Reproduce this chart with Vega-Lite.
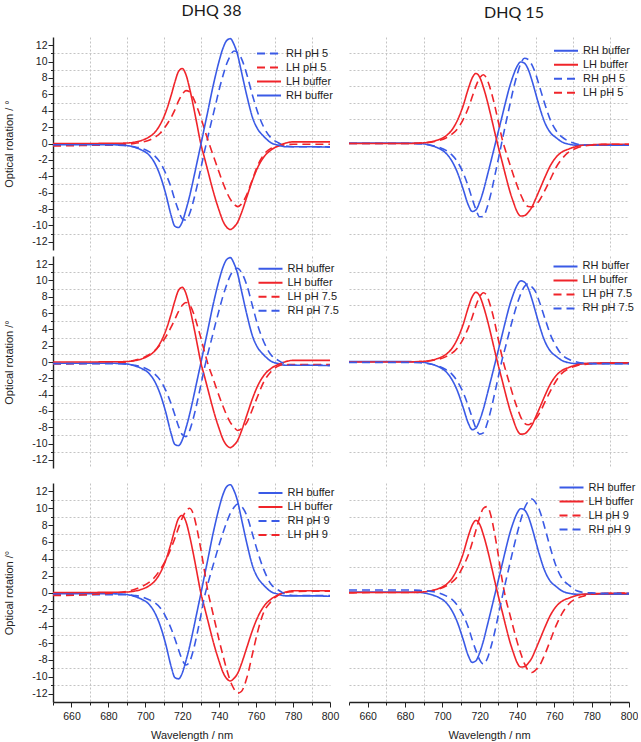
{
"$schema":"https://vega.github.io/schema/vega-lite/v6.json",
"background":"white",
"padding":{"left":3,"top":2,"right":0,"bottom":0},
"autosize":{"type":"pad"},
"datasets":{
"d38":[
{"nm":650,"RHb":-0.15,"LHb":0,"RH5":-0.2,"LH5":-0.3,"RH7":-0.2,"LH7":-0.25,"RH9":-0.25,"LH9":-0.35},
{"nm":665,"RHb":-0.15,"LHb":0,"RH5":-0.2,"LH5":-0.25,"RH7":-0.2,"LH7":-0.2,"RH9":-0.25,"LH9":-0.3},
{"nm":680,"RHb":-0.15,"LHb":0.02,"RH5":-0.2,"LH5":-0.15,"RH7":-0.2,"LH7":-0.15,"RH9":-0.25,"LH9":-0.1},
{"nm":688,"RHb":-0.2,"LHb":0.04,"RH5":-0.25,"LH5":-0.1,"RH7":-0.25,"LH7":-0.05,"RH9":-0.25,"LH9":0.05},
{"nm":694,"RHb":-0.45,"LHb":0.16,"RH5":-0.4,"LH5":0.0,"RH7":-0.4,"LH7":0.2,"RH9":-0.35,"LH9":0.35},
{"nm":698,"RHb":-0.8,"LHb":0.38,"RH5":-0.6,"LH5":0.15,"RH7":-0.6,"LH7":0.45,"RH9":-0.5,"LH9":0.7},
{"nm":702,"RHb":-1.4,"LHb":0.79,"RH5":-1.0,"LH5":0.4,"RH7":-1.0,"LH7":0.9,"RH9":-0.85,"LH9":1.2},
{"nm":705,"RHb":-2.35,"LHb":1.33,"RH5":-1.5,"LH5":0.75,"RH7":-1.45,"LH7":1.37,"RH9":-1.2,"LH9":1.8},
{"nm":708,"RHb":-3.9,"LHb":2.3,"RH5":-2.3,"LH5":1.25,"RH7":-2.2,"LH7":2.1,"RH9":-1.8,"LH9":2.7},
{"nm":711,"RHb":-6.1,"LHb":3.8,"RH5":-3.65,"LH5":2.1,"RH7":-3.45,"LH7":3.05,"RH9":-2.85,"LH9":3.8},
{"nm":714,"RHb":-8.8,"LHb":5.9,"RH5":-5.4,"LH5":3.2,"RH7":-5.15,"LH7":4.3,"RH9":-4.3,"LH9":5.3},
{"nm":716,"RHb":-10.1,"LHb":7.5,"RH5":-6.9,"LH5":4.1,"RH7":-6.5,"LH7":5.25,"RH9":-5.5,"LH9":6.45},
{"nm":718,"RHb":-10.25,"LHb":8.8,"RH5":-8.2,"LH5":5.2,"RH7":-7.9,"LH7":6.2,"RH9":-6.8,"LH9":7.7},
{"nm":720,"RHb":-9.56,"LHb":9.15,"RH5":-9.2,"LH5":6.0,"RH7":-8.9,"LH7":6.95,"RH9":-8.0,"LH9":8.85},
{"nm":722,"RHb":-8.1,"LHb":8.4,"RH5":-9.35,"LH5":6.45,"RH7":-9.15,"LH7":7.3,"RH9":-8.6,"LH9":9.66},
{"nm":724,"RHb":-6.4,"LHb":6.7,"RH5":-8.55,"LH5":6.3,"RH7":-8.4,"LH7":7.0,"RH9":-8.2,"LH9":10.0},
{"nm":726,"RHb":-4.4,"LHb":4.6,"RH5":-7.05,"LH5":5.55,"RH7":-6.9,"LH7":6.05,"RH9":-6.85,"LH9":9.3},
{"nm":728,"RHb":-2.3,"LHb":2.3,"RH5":-5.2,"LH5":4.45,"RH7":-5.0,"LH7":4.6,"RH9":-4.95,"LH9":7.5},
{"nm":730,"RHb":-0.2,"LHb":0,"RH5":-3.1,"LH5":3.2,"RH7":-2.9,"LH7":3.0,"RH9":-2.8,"LH9":5.2},
{"nm":732,"RHb":1.96,"LHb":-1.73,"RH5":-1.0,"LH5":1.75,"RH7":-0.75,"LH7":1.3,"RH9":-0.55,"LH9":2.6},
{"nm":734,"RHb":4.1,"LHb":-3.46,"RH5":0.95,"LH5":0.35,"RH7":1.15,"LH7":-0.33,"RH9":1.15,"LH9":0},
{"nm":736,"RHb":6.3,"LHb":-5.2,"RH5":2.85,"LH5":-0.97,"RH7":2.9,"LH7":-1.6,"RH9":2.7,"LH9":-1.9},
{"nm":738,"RHb":8.3,"LHb":-6.8,"RH5":4.7,"LH5":-2.26,"RH7":4.7,"LH7":-2.9,"RH9":4.2,"LH9":-3.8},
{"nm":740,"RHb":10.1,"LHb":-8.2,"RH5":6.6,"LH5":-3.55,"RH7":6.4,"LH7":-4.2,"RH9":5.7,"LH9":-5.7},
{"nm":742,"RHb":11.6,"LHb":-9.45,"RH5":8.25,"LH5":-4.8,"RH7":8.05,"LH7":-5.4,"RH9":7.05,"LH9":-7.45},
{"nm":744,"RHb":12.55,"LHb":-10.2,"RH5":9.7,"LH5":-5.9,"RH7":9.45,"LH7":-6.5,"RH9":8.3,"LH9":-9.1},
{"nm":746,"RHb":12.8,"LHb":-10.5,"RH5":10.7,"LH5":-6.8,"RH7":10.6,"LH7":-7.4,"RH9":9.4,"LH9":-10.5},
{"nm":748,"RHb":12.1,"LHb":-10.2,"RH5":11.3,"LH5":-7.4,"RH7":11.3,"LH7":-8.0,"RH9":10.1,"LH9":-11.45},
{"nm":750,"RHb":10.8,"LHb":-9.6,"RH5":11.1,"LH5":-7.7,"RH7":11.5,"LH7":-8.4,"RH9":10.5,"LH9":-11.95},
{"nm":752,"RHb":8.8,"LHb":-8.5,"RH5":10.4,"LH5":-7.4,"RH7":11.0,"LH7":-8.2,"RH9":10.25,"LH9":-11.75},
{"nm":755,"RHb":5.8,"LHb":-6.5,"RH5":8.4,"LH5":-6.2,"RH7":9.4,"LH7":-7.4,"RH9":9.1,"LH9":-10.1},
{"nm":758,"RHb":3.2,"LHb":-4.5,"RH5":5.9,"LH5":-4.4,"RH7":6.9,"LH7":-5.8,"RH9":6.95,"LH9":-7.3},
{"nm":761,"RHb":1.7,"LHb":-2.85,"RH5":3.7,"LH5":-2.6,"RH7":4.4,"LH7":-4.1,"RH9":4.7,"LH9":-4.5},
{"nm":764,"RHb":0.9,"LHb":-1.7,"RH5":2.05,"LH5":-1.4,"RH7":2.55,"LH7":-2.5,"RH9":2.8,"LH9":-2.4},
{"nm":768,"RHb":0.1,"LHb":-0.8,"RH5":0.7,"LH5":-0.6,"RH7":0.9,"LH7":-1.2,"RH9":1.0,"LH9":-1.1},
{"nm":772,"RHb":-0.2,"LHb":-0.3,"RH5":0.1,"LH5":-0.3,"RH7":0.2,"LH7":-0.5,"RH9":0.3,"LH9":-0.3},
{"nm":776,"RHb":-0.4,"LHb":0.05,"RH5":-0.3,"LH5":-0.15,"RH7":-0.25,"LH7":-0.3,"RH9":-0.2,"LH9":0.0},
{"nm":780,"RHb":-0.4,"LHb":0.2,"RH5":-0.4,"LH5":-0.1,"RH7":-0.4,"LH7":-0.3,"RH9":-0.35,"LH9":0.1},
{"nm":790,"RHb":-0.4,"LHb":0.2,"RH5":-0.4,"LH5":-0.1,"RH7":-0.4,"LH7":-0.3,"RH9":-0.35,"LH9":0.15},
{"nm":800,"RHb":-0.45,"LHb":0.2,"RH5":-0.4,"LH5":-0.1,"RH7":-0.4,"LH7":-0.3,"RH9":-0.35,"LH9":0.15}
],
"d15":[
{"nm":650,"RHb":0.05,"LHb":0,"RH5":0,"LH5":0,"RH7":-0.05,"LH7":0,"RH9":0.3,"LH9":-0.05},
{"nm":665,"RHb":0.05,"LHb":0,"RH5":0,"LH5":0,"RH7":-0.05,"LH7":0,"RH9":0.3,"LH9":0},
{"nm":680,"RHb":0.05,"LHb":0,"RH5":0,"LH5":0,"RH7":-0.05,"LH7":0,"RH9":0.3,"LH9":0},
{"nm":688,"RHb":0.0,"LHb":0.05,"RH5":-0.05,"LH5":0.04,"RH7":-0.1,"LH7":0.04,"RH9":0.25,"LH9":0.05},
{"nm":694,"RHb":-0.25,"LHb":0.21,"RH5":-0.21,"LH5":0.17,"RH7":-0.27,"LH7":0.16,"RH9":0.13,"LH9":0.2},
{"nm":698,"RHb":-0.58,"LHb":0.47,"RH5":-0.44,"LH5":0.35,"RH7":-0.5,"LH7":0.34,"RH9":-0.05,"LH9":0.4},
{"nm":702,"RHb":-1.2,"LHb":0.94,"RH5":-0.84,"LH5":0.68,"RH7":-0.94,"LH7":0.66,"RH9":-0.4,"LH9":0.77},
{"nm":705,"RHb":-2.1,"LHb":1.62,"RH5":-1.36,"LH5":1.1,"RH7":-1.45,"LH7":1.05,"RH9":-0.8,"LH9":1.2},
{"nm":708,"RHb":-3.5,"LHb":2.8,"RH5":-2.2,"LH5":1.76,"RH7":-2.35,"LH7":1.7,"RH9":-1.5,"LH9":1.85},
{"nm":711,"RHb":-5.47,"LHb":4.5,"RH5":-3.5,"LH5":2.85,"RH7":-3.65,"LH7":2.75,"RH9":-2.6,"LH9":3.05},
{"nm":714,"RHb":-7.55,"LHb":6.75,"RH5":-5.3,"LH5":4.4,"RH7":-5.45,"LH7":4.25,"RH9":-4.2,"LH9":4.5},
{"nm":716,"RHb":-8.3,"LHb":8.0,"RH5":-6.75,"LH5":5.7,"RH7":-6.85,"LH7":5.5,"RH9":-5.6,"LH9":5.9},
{"nm":718,"RHb":-8.1,"LHb":8.55,"RH5":-8.05,"LH5":7.0,"RH7":-8.15,"LH7":6.9,"RH9":-6.9,"LH9":7.4},
{"nm":720,"RHb":-7.15,"LHb":8.1,"RH5":-8.95,"LH5":8.0,"RH7":-8.85,"LH7":8.0,"RH9":-8.0,"LH9":8.9},
{"nm":722,"RHb":-5.75,"LHb":6.85,"RH5":-8.9,"LH5":8.4,"RH7":-8.7,"LH7":8.5,"RH9":-8.5,"LH9":10.0},
{"nm":724,"RHb":-4.0,"LHb":5.25,"RH5":-7.8,"LH5":7.8,"RH7":-7.55,"LH7":8.05,"RH9":-7.9,"LH9":10.2},
{"nm":726,"RHb":-2.2,"LHb":3.4,"RH5":-6.15,"LH5":6.45,"RH7":-5.9,"LH7":6.7,"RH9":-6.5,"LH9":9.15},
{"nm":728,"RHb":-0.37,"LHb":1.45,"RH5":-4.05,"LH5":4.7,"RH7":-3.9,"LH7":4.9,"RH9":-4.75,"LH9":7.0},
{"nm":730,"RHb":1.47,"LHb":-0.44,"RH5":-1.9,"LH5":2.65,"RH7":-1.8,"LH7":2.75,"RH9":-2.7,"LH9":4.4},
{"nm":732,"RHb":3.3,"LHb":-2.2,"RH5":0.3,"LH5":0.6,"RH7":0.26,"LH7":0.64,"RH9":-0.6,"LH9":1.55},
{"nm":734,"RHb":5.16,"LHb":-4.0,"RH5":2.45,"LH5":-0.98,"RH7":2.0,"LH7":-1.1,"RH9":1.35,"LH9":-0.76},
{"nm":736,"RHb":6.9,"LHb":-5.7,"RH5":4.55,"LH5":-2.4,"RH7":3.8,"LH7":-2.65,"RH9":3.25,"LH9":-2.45},
{"nm":738,"RHb":8.3,"LHb":-7.1,"RH5":6.6,"LH5":-3.8,"RH7":5.5,"LH7":-4.2,"RH9":5.15,"LH9":-4.15},
{"nm":740,"RHb":9.4,"LHb":-8.3,"RH5":8.35,"LH5":-5.1,"RH7":7.05,"LH7":-5.55,"RH9":6.95,"LH9":-5.8},
{"nm":742,"RHb":9.95,"LHb":-8.85,"RH5":9.75,"LH5":-6.25,"RH7":8.35,"LH7":-6.75,"RH9":8.6,"LH9":-7.2},
{"nm":744,"RHb":9.8,"LHb":-8.8,"RH5":10.4,"LH5":-7.2,"RH7":9.25,"LH7":-7.5,"RH9":10.0,"LH9":-8.45},
{"nm":746,"RHb":9.05,"LHb":-8.4,"RH5":10.25,"LH5":-7.7,"RH7":9.6,"LH7":-7.7,"RH9":10.8,"LH9":-9.25},
{"nm":748,"RHb":7.7,"LHb":-7.75,"RH5":9.6,"LH5":-7.75,"RH7":9.2,"LH7":-7.45,"RH9":11.1,"LH9":-9.5},
{"nm":750,"RHb":6.1,"LHb":-6.75,"RH5":8.5,"LH5":-7.5,"RH7":8.6,"LH7":-7.0,"RH9":10.65,"LH9":-9.2},
{"nm":752,"RHb":4.5,"LHb":-5.7,"RH5":7.0,"LH5":-6.95,"RH7":7.4,"LH7":-6.3,"RH9":9.8,"LH9":-8.7},
{"nm":755,"RHb":2.5,"LHb":-4.1,"RH5":4.75,"LH5":-5.7,"RH7":5.3,"LH7":-4.9,"RH9":7.6,"LH9":-7.3},
{"nm":758,"RHb":1.3,"LHb":-2.65,"RH5":2.8,"LH5":-4.3,"RH7":3.3,"LH7":-3.5,"RH9":5.2,"LH9":-5.6},
{"nm":761,"RHb":0.7,"LHb":-1.65,"RH5":1.55,"LH5":-2.9,"RH7":1.9,"LH7":-2.3,"RH9":3.1,"LH9":-3.9},
{"nm":764,"RHb":0.2,"LHb":-1.05,"RH5":0.8,"LH5":-1.9,"RH7":0.9,"LH7":-1.4,"RH9":1.7,"LH9":-2.55},
{"nm":768,"RHb":-0.1,"LHb":-0.65,"RH5":0.25,"LH5":-1.0,"RH7":0.3,"LH7":-0.8,"RH9":0.85,"LH9":-1.3},
{"nm":772,"RHb":-0.2,"LHb":-0.35,"RH5":-0.05,"LH5":-0.55,"RH7":0.0,"LH7":-0.45,"RH9":0.2,"LH9":-0.7},
{"nm":776,"RHb":-0.2,"LHb":-0.2,"RH5":-0.2,"LH5":-0.3,"RH7":-0.15,"LH7":-0.3,"RH9":0.0,"LH9":-0.4},
{"nm":780,"RHb":-0.2,"LHb":-0.15,"RH5":-0.2,"LH5":-0.2,"RH7":-0.2,"LH7":-0.2,"RH9":-0.05,"LH9":-0.2},
{"nm":790,"RHb":-0.2,"LHb":-0.1,"RH5":-0.2,"LH5":-0.1,"RH7":-0.2,"LH7":-0.15,"RH9":-0.1,"LH9":-0.1},
{"nm":800,"RHb":-0.2,"LHb":-0.1,"RH5":-0.2,"LH5":-0.1,"RH7":-0.2,"LH7":-0.1,"RH9":-0.1,"LH9":-0.05}
]
},
"config":{
"view":{"stroke":null},
"axis":{"labelFont":"Liberation Sans Narrow, Liberation Sans","labelFontSize":10.5,"labelColor":"#222","titleFont":"Liberation Sans","titleFontSize":11,"titleFontWeight":"normal","titleColor":"#222","domainColor":"#222","domainWidth":1.4,"tickColor":"#222","tickWidth":1,"gridColor":"#c4c4c4","gridDash":[2,2],"gridWidth":1,"labelOverlap":false,"labelFlush":false},
"legend":{"symbolSize":144,"symbolStrokeWidth":2,"labelOffset":10,"rowPadding":2,"labelFont":"Liberation Sans","labelFontSize":11,"labelColor":"#222","padding":0}
},
"columns":2,
"bounds":"flush",
"spacing":{"row":6,"column":19},
"resolve":{"scale":{"color":"independent","strokeDash":"independent"},"legend":{"color":"independent","strokeDash":"independent"}},
"concat":[
{"width":277,"height":213,
"title":{"text":"DHQ 38","frame":"group","anchor":"middle","dx":20,"offset":16.5,"font":"Lato","fontSize":16,"fontWeight":"normal","color":"#1a1a1a"},
"data":{"name":"d38"},
"transform":[{"fold":["RH5","LH5","LHb","RHb"],"as":["k","v"]}],
"mark":{"type":"line","interpolate":"monotone","strokeWidth":1.6},
"encoding":{
"x":{"field":"nm","type":"quantitative","scale":{"domain":[650,800],"nice":false,"zero":false},"axis":{"values":[670,690,710,730,750,770,790],"grid":true,"domain":false,"ticks":false,"labels":false,"title":null}},
"y":{"field":"v","type":"quantitative","scale":{"domain":[-13,13],"nice":false},"axis":{"values":[-12,-11,-10,-9,-8,-7,-6,-5,-4,-3,-2,-1,0,1,2,3,4,5,6,7,8,9,10,11,12],"title":"Optical rotation / °","labelExpr":"datum.value % 2 == 0 ? '' + datum.value : ''","tickSize":{"condition":{"test":"datum.value % 2 == 0","value":5},"value":2.5},"grid":true,"gridOpacity":{"condition":{"test":"datum.value % 2 == 0","value":0},"value":1},"labelPadding":1,"titlePadding":17}},
"color":{"field":"k","type":"nominal","scale":{"domain":["RH5","LH5","LHb","RHb"],"range":["#3a5ae6","#f0242a","#f0242a","#3a5ae6"]},"legend":{"title":null,"orient":"none","legendX":209,"legendY":9.5,"symbolType":"M-2,0H2","labelExpr":"datum.value=='RHb'?'RH buffer':datum.value=='LHb'?'LH buffer':datum.value=='RH5'?'RH pH 5':datum.value=='LH5'?'LH pH 5':datum.value=='RH7'?'RH pH 7.5':datum.value=='LH7'?'LH pH 7.5':datum.value=='RH9'?'RH pH 9':'LH pH 9'"}},
"strokeDash":{"field":"k","type":"nominal","scale":{"domain":["RH5","LH5","LHb","RHb"],"range":[[8,5],[8,5],[1,0],[1,0]]},"legend":{"title":null,"orient":"none","legendX":209,"legendY":9.5,"symbolType":"M-2,0H2","labelExpr":"datum.value=='RHb'?'RH buffer':datum.value=='LHb'?'LH buffer':datum.value=='RH5'?'RH pH 5':datum.value=='LH5'?'LH pH 5':datum.value=='RH7'?'RH pH 7.5':datum.value=='LH7'?'LH pH 7.5':datum.value=='RH9'?'RH pH 9':'LH pH 9'"}}
}},
{"width":280,"height":213,
"title":{"text":"DHQ 15","frame":"group","anchor":"middle","dx":25,"offset":16.5,"font":"Lato","fontSize":16,"fontWeight":"normal","color":"#1a1a1a"},
"data":{"name":"d15"},
"transform":[{"fold":["RHb","LHb","RH5","LH5"],"as":["k","v"]}],
"mark":{"type":"line","interpolate":"monotone","strokeWidth":1.6},
"encoding":{
"x":{"field":"nm","type":"quantitative","scale":{"domain":[650,800],"nice":false,"zero":false},"axis":{"values":[670,690,710,730,750,770,790],"grid":true,"domain":false,"ticks":false,"labels":false,"title":null}},
"y":{"field":"v","type":"quantitative","scale":{"domain":[-13,13],"nice":false},"axis":{"values":[-11,-9,-7,-5,-3,-1,1,3,5,7,9,11],"grid":true,"domain":false,"ticks":false,"labels":false,"title":null}},
"color":{"field":"k","type":"nominal","scale":{"domain":["RHb","LHb","RH5","LH5"],"range":["#3a5ae6","#f0242a","#3a5ae6","#f0242a"]},"legend":{"title":null,"orient":"none","legendX":210,"legendY":6.7,"symbolType":"M-2,0H2","labelExpr":"datum.value=='RHb'?'RH buffer':datum.value=='LHb'?'LH buffer':datum.value=='RH5'?'RH pH 5':datum.value=='LH5'?'LH pH 5':datum.value=='RH7'?'RH pH 7.5':datum.value=='LH7'?'LH pH 7.5':datum.value=='RH9'?'RH pH 9':'LH pH 9'"}},
"strokeDash":{"field":"k","type":"nominal","scale":{"domain":["RHb","LHb","RH5","LH5"],"range":[[1,0],[1,0],[8,5],[8,5]]},"legend":{"title":null,"orient":"none","legendX":210,"legendY":6.7,"symbolType":"M-2,0H2","labelExpr":"datum.value=='RHb'?'RH buffer':datum.value=='LHb'?'LH buffer':datum.value=='RH5'?'RH pH 5':datum.value=='LH5'?'LH pH 5':datum.value=='RH7'?'RH pH 7.5':datum.value=='LH7'?'LH pH 7.5':datum.value=='RH9'?'RH pH 9':'LH pH 9'"}}
}},
{"width":277,"height":212,
"data":{"name":"d38"},
"transform":[{"fold":["RHb","LHb","LH7","RH7"],"as":["k","v"]}],
"mark":{"type":"line","interpolate":"monotone","strokeWidth":1.6},
"encoding":{
"x":{"field":"nm","type":"quantitative","scale":{"domain":[650,800],"nice":false,"zero":false},"axis":{"values":[670,690,710,730,750,770,790],"grid":true,"domain":false,"ticks":false,"labels":false,"title":null}},
"y":{"field":"v","type":"quantitative","scale":{"domain":[-13,13],"nice":false},"axis":{"values":[-12,-11,-10,-9,-8,-7,-6,-5,-4,-3,-2,-1,0,1,2,3,4,5,6,7,8,9,10,11,12],"title":"Optical rotation /°","labelExpr":"datum.value % 2 == 0 ? '' + datum.value : ''","tickSize":{"condition":{"test":"datum.value % 2 == 0","value":5},"value":2.5},"grid":true,"gridOpacity":{"condition":{"test":"datum.value % 2 == 0","value":0},"value":1},"labelPadding":1,"titlePadding":17}},
"color":{"field":"k","type":"nominal","scale":{"domain":["RHb","LHb","LH7","RH7"],"range":["#3a5ae6","#f0242a","#f0242a","#3a5ae6"]},"legend":{"title":null,"orient":"none","legendX":210.5,"legendY":5.7,"symbolType":"M-2,0H2","labelExpr":"datum.value=='RHb'?'RH buffer':datum.value=='LHb'?'LH buffer':datum.value=='RH5'?'RH pH 5':datum.value=='LH5'?'LH pH 5':datum.value=='RH7'?'RH pH 7.5':datum.value=='LH7'?'LH pH 7.5':datum.value=='RH9'?'RH pH 9':'LH pH 9'"}},
"strokeDash":{"field":"k","type":"nominal","scale":{"domain":["RHb","LHb","LH7","RH7"],"range":[[1,0],[1,0],[8,5],[8,5]]},"legend":{"title":null,"orient":"none","legendX":210.5,"legendY":5.7,"symbolType":"M-2,0H2","labelExpr":"datum.value=='RHb'?'RH buffer':datum.value=='LHb'?'LH buffer':datum.value=='RH5'?'RH pH 5':datum.value=='LH5'?'LH pH 5':datum.value=='RH7'?'RH pH 7.5':datum.value=='LH7'?'LH pH 7.5':datum.value=='RH9'?'RH pH 9':'LH pH 9'"}}
}},
{"width":280,"height":212,
"data":{"name":"d15"},
"transform":[{"fold":["RHb","LHb","LH7","RH7"],"as":["k","v"]}],
"mark":{"type":"line","interpolate":"monotone","strokeWidth":1.6},
"encoding":{
"x":{"field":"nm","type":"quantitative","scale":{"domain":[650,800],"nice":false,"zero":false},"axis":{"values":[670,690,710,730,750,770,790],"grid":true,"domain":false,"ticks":false,"labels":false,"title":null}},
"y":{"field":"v","type":"quantitative","scale":{"domain":[-13,13],"nice":false},"axis":{"values":[-11,-9,-7,-5,-3,-1,1,3,5,7,9,11],"grid":true,"domain":false,"ticks":false,"labels":false,"title":null}},
"color":{"field":"k","type":"nominal","scale":{"domain":["RHb","LHb","LH7","RH7"],"range":["#3a5ae6","#f0242a","#f0242a","#3a5ae6"]},"legend":{"title":null,"orient":"none","legendX":209.5,"legendY":3.4,"symbolType":"M-2,0H2","labelExpr":"datum.value=='RHb'?'RH buffer':datum.value=='LHb'?'LH buffer':datum.value=='RH5'?'RH pH 5':datum.value=='LH5'?'LH pH 5':datum.value=='RH7'?'RH pH 7.5':datum.value=='LH7'?'LH pH 7.5':datum.value=='RH9'?'RH pH 9':'LH pH 9'"}},
"strokeDash":{"field":"k","type":"nominal","scale":{"domain":["RHb","LHb","LH7","RH7"],"range":[[1,0],[1,0],[8,5],[8,5]]},"legend":{"title":null,"orient":"none","legendX":209.5,"legendY":3.4,"symbolType":"M-2,0H2","labelExpr":"datum.value=='RHb'?'RH buffer':datum.value=='LHb'?'LH buffer':datum.value=='RH5'?'RH pH 5':datum.value=='LH5'?'LH pH 5':datum.value=='RH7'?'RH pH 7.5':datum.value=='LH7'?'LH pH 7.5':datum.value=='RH9'?'RH pH 9':'LH pH 9'"}}
}},
{"width":277,"height":2.6,"data":{"values":[]},"mark":"point"},
{"width":280,"height":2.6,"data":{"values":[]},"mark":"point"},
{"width":277,"height":219,
"data":{"name":"d38"},
"transform":[{"fold":["RHb","LHb","RH9","LH9"],"as":["k","v"]}],
"mark":{"type":"line","interpolate":"monotone","strokeWidth":1.6},
"encoding":{
"x":{"field":"nm","type":"quantitative","scale":{"domain":[650,800],"nice":false,"zero":false},"axis":{"values":[650,660,670,680,690,700,710,720,730,740,750,760,770,780,790,800],"title":"Wavelength / nm","labelExpr":"datum.value % 20 == 0 ? '' + datum.value : ''","tickSize":{"condition":{"test":"datum.value % 20 == 0","value":5},"value":3},"grid":true,"gridOpacity":{"condition":{"test":"datum.value % 20 == 10 && datum.value > 650","value":1},"value":0},"labelPadding":4,"titlePadding":8}},
"y":{"field":"v","type":"quantitative","scale":{"domain":[-13,13],"nice":false},"axis":{"values":[-12,-11,-10,-9,-8,-7,-6,-5,-4,-3,-2,-1,0,1,2,3,4,5,6,7,8,9,10,11,12],"title":"Optical rotation /°","labelExpr":"datum.value % 2 == 0 ? '' + datum.value : ''","tickSize":{"condition":{"test":"datum.value % 2 == 0","value":5},"value":2.5},"grid":true,"gridOpacity":{"condition":{"test":"datum.value % 2 == 0","value":0},"value":1},"labelPadding":1,"titlePadding":17}},
"color":{"field":"k","type":"nominal","scale":{"domain":["RHb","LHb","RH9","LH9"],"range":["#3a5ae6","#f0242a","#3a5ae6","#f0242a"]},"legend":{"title":null,"orient":"none","legendX":210.5,"legendY":3,"symbolType":"M-2,0H2","labelExpr":"datum.value=='RHb'?'RH buffer':datum.value=='LHb'?'LH buffer':datum.value=='RH5'?'RH pH 5':datum.value=='LH5'?'LH pH 5':datum.value=='RH7'?'RH pH 7.5':datum.value=='LH7'?'LH pH 7.5':datum.value=='RH9'?'RH pH 9':'LH pH 9'"}},
"strokeDash":{"field":"k","type":"nominal","scale":{"domain":["RHb","LHb","RH9","LH9"],"range":[[1,0],[1,0],[8,5],[8,5]]},"legend":{"title":null,"orient":"none","legendX":210.5,"legendY":3,"symbolType":"M-2,0H2","labelExpr":"datum.value=='RHb'?'RH buffer':datum.value=='LHb'?'LH buffer':datum.value=='RH5'?'RH pH 5':datum.value=='LH5'?'LH pH 5':datum.value=='RH7'?'RH pH 7.5':datum.value=='LH7'?'LH pH 7.5':datum.value=='RH9'?'RH pH 9':'LH pH 9'"}}
}},
{"width":280,"height":219,
"data":{"name":"d15"},
"transform":[{"fold":["RHb","LHb","LH9","RH9"],"as":["k","v"]}],
"mark":{"type":"line","interpolate":"monotone","strokeWidth":1.6},
"encoding":{
"x":{"field":"nm","type":"quantitative","scale":{"domain":[650,800],"nice":false,"zero":false},"axis":{"values":[650,660,670,680,690,700,710,720,730,740,750,760,770,780,790,800],"title":"Wavelength / nm","labelExpr":"datum.value % 20 == 0 ? '' + datum.value : ''","tickSize":{"condition":{"test":"datum.value % 20 == 0","value":5},"value":3},"grid":true,"gridOpacity":{"condition":{"test":"datum.value % 20 == 10 && datum.value > 650","value":1},"value":0},"labelPadding":4,"titlePadding":8}},
"y":{"field":"v","type":"quantitative","scale":{"domain":[-13,13],"nice":false},"axis":{"values":[-11,-9,-7,-5,-3,-1,1,3,5,7,9,11],"grid":true,"domain":false,"ticks":false,"labels":false,"title":null}},
"color":{"field":"k","type":"nominal","scale":{"domain":["RHb","LHb","LH9","RH9"],"range":["#3a5ae6","#f0242a","#f0242a","#3a5ae6"]},"legend":{"title":null,"orient":"none","legendX":215.5,"legendY":-2.5,"symbolType":"M-2,0H2","labelExpr":"datum.value=='RHb'?'RH buffer':datum.value=='LHb'?'LH buffer':datum.value=='RH5'?'RH pH 5':datum.value=='LH5'?'LH pH 5':datum.value=='RH7'?'RH pH 7.5':datum.value=='LH7'?'LH pH 7.5':datum.value=='RH9'?'RH pH 9':'LH pH 9'"}},
"strokeDash":{"field":"k","type":"nominal","scale":{"domain":["RHb","LHb","LH9","RH9"],"range":[[1,0],[1,0],[8,5],[8,5]]},"legend":{"title":null,"orient":"none","legendX":215.5,"legendY":-2.5,"symbolType":"M-2,0H2","labelExpr":"datum.value=='RHb'?'RH buffer':datum.value=='LHb'?'LH buffer':datum.value=='RH5'?'RH pH 5':datum.value=='LH5'?'LH pH 5':datum.value=='RH7'?'RH pH 7.5':datum.value=='LH7'?'LH pH 7.5':datum.value=='RH9'?'RH pH 9':'LH pH 9'"}}
}}
]
}
